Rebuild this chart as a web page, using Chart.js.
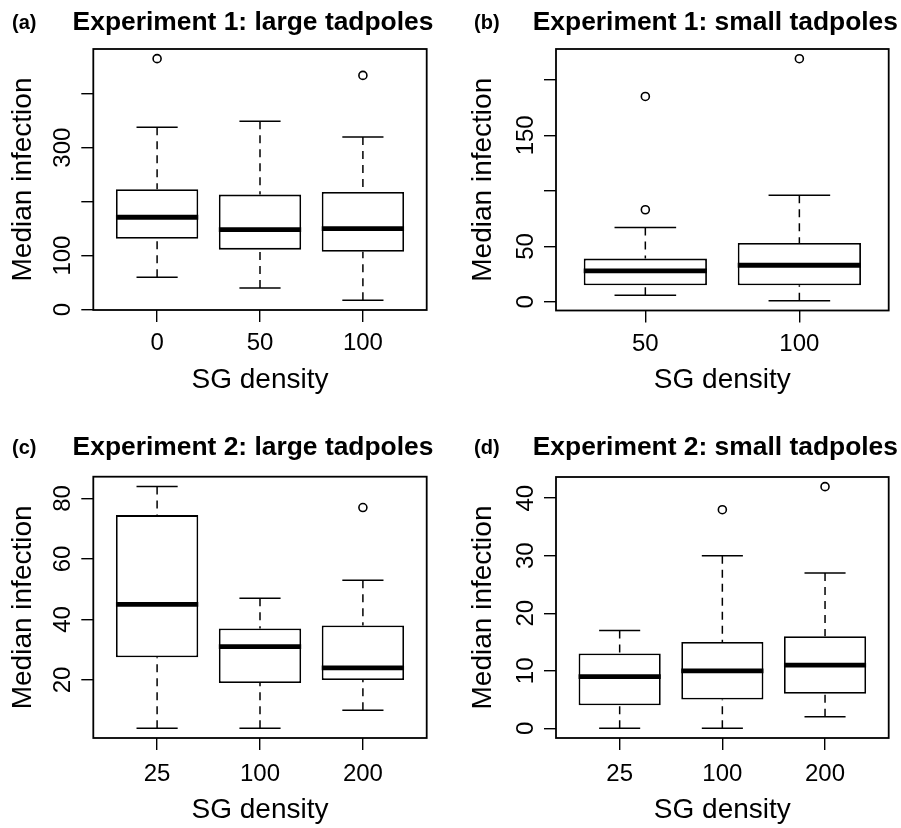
<!DOCTYPE html>
<html>
<head>
<meta charset="utf-8">
<title>Median infection by SG density</title>
<script src="https://cdn.jsdelivr.net/npm/chart.js@4.4.1/dist/chart.umd.min.js"></script>
<style>
  body { margin: 0; background: #fff; }
  #wrap { position: relative; width: 901px; height: 828px; overflow: hidden; }
  .panel { position: absolute; }
  .panel canvas { display: block; }
</style>
</head>
<body>
<div id="wrap">
  <div class="panel" style="left:0;top:0"><canvas id="chart-a" width="450" height="414"></canvas></div>
  <div class="panel" style="left:450px;top:0"><canvas id="chart-b" width="451" height="414"></canvas></div>
  <div class="panel" style="left:0;top:414px"><canvas id="chart-c" width="450" height="414"></canvas></div>
  <div class="panel" style="left:450px;top:414px"><canvas id="chart-d" width="451" height="414"></canvas></div>
</div>
<script>
// --- DATA ---

// (a) Experiment 1: large tadpoles
const densityA = ['0', '50', '100'];
const lowA  = [60, 40, 17];
const q1A   = [131, 111, 107];
const medA  = [171, 148, 150];
const q3A   = [223, 213, 218];
const highA = [338, 349, 320];
const outA  = [[465], [], [434]];
const yTicksA = [0, 100, 200, 300, 400];
const yLabelsA = ['0', '100', '', '300', ''];

// (b) Experiment 1: small tadpoles
const densityB = ['50', '100'];
const lowB  = [6, 1];
const q1B   = [15, 15];
const medB  = [28, 33];
const q3B   = [39, 53];
const highB = [67, 96];
const outB  = [[185, 83], [219]];
const yTicksB = [0, 50, 100, 150, 200];
const yLabelsB = ['0', '50', '', '150', ''];

// (c) Experiment 2: large tadpoles
const densityC = ['25', '100', '200'];
const lowC  = [4, 4, 10];
const q1C   = [27.5, 19, 20];
const medC  = [45, 31, 24];
const q3C   = [74.5, 37, 38];
const highC = [84, 47, 53];
const outC  = [[], [], [77]];
const yTicksC = [20, 40, 60, 80];
const yLabelsC = ['20', '40', '60', '80'];

// (d) Experiment 2: small tadpoles
const densityD = ['25', '100', '200'];
const lowD  = [0, 0, 2];
const q1D   = [4, 5, 6];
const medD  = [9, 10, 11];
const q3D   = [13, 15, 16];
const highD = [17, 30, 27];
const outD  = [[], [38], [42]];
const yTicksD = [0, 10, 20, 30, 40];
const yLabelsD = ['0', '10', '20', '30', '40'];

const FONT = '"Liberation Sans", Arial, Helvetica, sans-serif';

// draw one boxplot panel
function makeBoxplot(id, p, lay) {
    const n = p.density.length;
    // R-style axis ranges: 4% padding around the data
    const all = p.low.concat(p.high, p.out.flat());
    const lo = Math.min(...all), hi = Math.max(...all);
    const padY = (hi - lo) * 0.04;
    const padX = n * 0.04;

    const boxes = p.density.map((d, i) => ({ x: i + 1, y: [p.q1[i], p.q3[i]] }));
    const outliers = [];
    p.out.forEach((vals, i) => vals.forEach(v => outliers.push({ x: i + 1, y: v })));

    // whiskers, staples, medians, frame and text
    const boxExtras = {
        id: 'boxExtras',
        afterDatasetsDraw(chart) {
            const { ctx, scales: { x, y } } = chart;
            ctx.save();
            ctx.strokeStyle = '#000';
            ctx.lineCap = 'butt';
            for (let i = 0; i < n; i++) {
                const cx = x.getPixelForValue(i + 1);
                const capL = x.getPixelForValue(i + 1 - 0.2), capR = x.getPixelForValue(i + 1 + 0.2);
                const boxL = x.getPixelForValue(i + 1 - 0.4), boxR = x.getPixelForValue(i + 1 + 0.4);
                // dashed whiskers, drawn from the staple toward the box
                ctx.lineWidth = 1.5;
                ctx.setLineDash([8, 6]);
                [[p.low[i], p.q1[i]], [p.high[i], p.q3[i]]].forEach(([a, b]) => {
                    ctx.beginPath();
                    ctx.moveTo(cx, y.getPixelForValue(a));
                    ctx.lineTo(cx, y.getPixelForValue(b));
                    ctx.stroke();
                });
                ctx.setLineDash([]);
                // staples
                [p.low[i], p.high[i]].forEach(v => {
                    const py = y.getPixelForValue(v);
                    ctx.beginPath();
                    ctx.moveTo(capL, py);
                    ctx.lineTo(capR, py);
                    ctx.stroke();
                });
                // median
                ctx.lineWidth = 4.8;
                const my = y.getPixelForValue(p.med[i]);
                ctx.beginPath();
                ctx.moveTo(boxL, my);
                ctx.lineTo(boxR, my);
                ctx.stroke();
            }
            ctx.restore();
        },
        afterDraw(chart) {
            const { ctx, chartArea: a, scales: { y } } = chart;
            ctx.save();
            // plot frame
            ctx.strokeStyle = '#000';
            ctx.lineWidth = 1.8;
            ctx.strokeRect(a.left, a.top, a.right - a.left, a.bottom - a.top);
            // rotated y tick labels (R las = 0)
            ctx.fillStyle = '#000';
            ctx.font = '24px ' + FONT;
            ctx.textAlign = 'center';
            ctx.textBaseline = 'alphabetic';
            p.yTicks.forEach((v, i) => {
                if (!p.yLabels[i]) return;
                ctx.save();
                ctx.translate(a.left - 23, y.getPixelForValue(v));
                ctx.rotate(-Math.PI / 2);
                ctx.fillText(p.yLabels[i], 0, 0);
                ctx.restore();
            });
            // panel letter and title
            ctx.textAlign = 'left';
            ctx.font = 'bold 20px ' + FONT;
            ctx.fillText(p.letter, lay.letterX, lay.titleY - 1);
            ctx.textAlign = 'center';
            ctx.font = 'bold 26.4px ' + FONT;
            ctx.fillText(p.title, (a.left + a.right) / 2 - 7, lay.titleY);
            ctx.restore();
        }
    };

    return new Chart(document.getElementById(id), {
        type: 'bar',
        data: {
            datasets: [{
                type: 'bar',
                data: boxes,
                backgroundColor: '#fff',
                borderColor: '#000',
                borderWidth: 1.8,
                borderSkipped: false,
                categoryPercentage: 1,
                barPercentage: 0.8
            }, {
                type: 'scatter',
                data: outliers,
                pointStyle: 'circle',
                pointRadius: 4,
                pointBorderWidth: 1.6,
                borderColor: '#000',
                backgroundColor: '#fff'
            }]
        },
        options: {
            responsive: false,
            animation: false,
            events: [],
            layout: { padding: { left: 0, right: lay.width - lay.right, top: lay.top, bottom: 0 } },
            plugins: { legend: { display: false }, tooltip: { enabled: false }, title: { display: false } },
            scales: {
                x: {
                    type: 'linear',
                    offset: false,
                    min: 0.5 - padX,
                    max: n + 0.5 + padX,
                    afterBuildTicks: s => { s.ticks = p.density.map((d, i) => ({ value: i + 1 })); },
                    afterFit: s => { s.height = lay.height - lay.bottom; },
                    grid: { offset: false, drawOnChartArea: false, drawTicks: true, tickLength: 12, color: '#000', lineWidth: 1.4 },
                    border: { display: false },
                    ticks: {
                        color: '#000',
                        font: { size: 24, family: FONT },
                        padding: lay.xTickPad,
                        maxRotation: 0,
                        autoSkip: false,
                        callback: v => p.density[v - 1]
                    },
                    title: {
                        display: true,
                        text: 'SG density',
                        color: '#000',
                        font: { size: 28, family: FONT },
                        padding: { top: 0, bottom: lay.xTitlePad }
                    }
                },
                y: {
                    min: lo - padY,
                    max: hi + padY,
                    afterBuildTicks: s => { s.ticks = p.yTicks.map(v => ({ value: v })); },
                    afterFit: s => { s.width = lay.left; },
                    grid: { drawOnChartArea: false, drawTicks: true, tickLength: 12, color: '#000', lineWidth: 1.4 },
                    border: { display: false },
                    ticks: { display: false },
                    title: {
                        display: true,
                        text: 'Median infection',
                        color: '#000',
                        font: { size: 28, family: FONT },
                        padding: { top: lay.yTitlePad, bottom: 0 }
                    }
                }
            }
        },
        plugins: [boxExtras]
    });
}

const leftTop  = { width: 450, height: 414, left: 93.3, right: 426.7, top: 49, bottom: 310, titleY: 30, letterX: 12, xTickPad: 7, xTitlePad: 17, yTitlePad: 6.2 };
const rightTop = { width: 451, height: 414, left: 106, right: 438.7, top: 49, bottom: 310.5, titleY: 30, letterX: 24, xTickPad: 7, xTitlePad: 17, yTitlePad: 16.5 };
const leftBot  = { width: 450, height: 414, left: 93.3, right: 426.7, top: 62.7, bottom: 324, titleY: 40.5, letterX: 12, xTickPad: 9.6, xTitlePad: 1, yTitlePad: 6.2 };
const rightBot = { width: 451, height: 414, left: 106, right: 438.7, top: 63, bottom: 324, titleY: 40.5, letterX: 24, xTickPad: 9.6, xTitlePad: 1, yTitlePad: 16.5 };

makeBoxplot('chart-a', { letter: '(a)', title: 'Experiment 1: large tadpoles', density: densityA, low: lowA, q1: q1A, med: medA, q3: q3A, high: highA, out: outA, yTicks: yTicksA, yLabels: yLabelsA }, leftTop);
makeBoxplot('chart-b', { letter: '(b)', title: 'Experiment 1: small tadpoles', density: densityB, low: lowB, q1: q1B, med: medB, q3: q3B, high: highB, out: outB, yTicks: yTicksB, yLabels: yLabelsB }, rightTop);
makeBoxplot('chart-c', { letter: '(c)', title: 'Experiment 2: large tadpoles', density: densityC, low: lowC, q1: q1C, med: medC, q3: q3C, high: highC, out: outC, yTicks: yTicksC, yLabels: yLabelsC }, leftBot);
makeBoxplot('chart-d', { letter: '(d)', title: 'Experiment 2: small tadpoles', density: densityD, low: lowD, q1: q1D, med: medD, q3: q3D, high: highD, out: outD, yTicks: yTicksD, yLabels: yLabelsD }, rightBot);
</script>
</body>
</html>
